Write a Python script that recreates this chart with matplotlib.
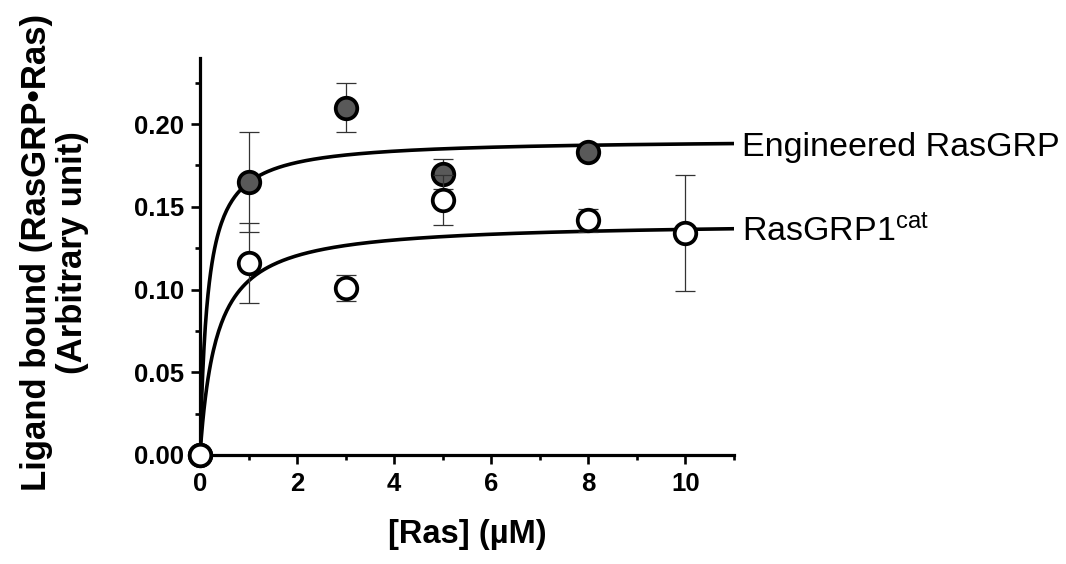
import numpy as np
import matplotlib
matplotlib.use("Agg")
import matplotlib.pyplot as plt
from matplotlib.ticker import MultipleLocator

plt.rcParams['font.family'] = ['Liberation Sans', 'DejaVu Sans']
plt.rcParams['mathtext.default'] = 'regular'

# measured points
eng_x = [0, 1, 3, 5, 8]
eng_y = [0.0, 0.165, 0.210, 0.170, 0.183]
eng_err = [0.0, 0.030, 0.015, 0.009, 0.002]

cat_x = [0, 1, 3, 5, 8, 10]
cat_y = [0.0, 0.116, 0.101, 0.154, 0.142, 0.134]
cat_err = [0.0, 0.024, 0.008, 0.015, 0.007, 0.035]

# one-site binding fits: Bmax, Kd
eng_fit = (0.191, 0.16)
cat_fit = (0.141, 0.34)

labels = ["Engineered RasGRP", "RasGRP1$^{cat}$"]


def binding(x, bmax, kd):
    return bmax * x / (kd + x)


fig = plt.figure(figsize=(10.66, 5.64), dpi=100)
ax = fig.add_axes([0.1876, 0.1933, 0.5010, 0.7039])

xx = np.linspace(0, 11, 400)
ax.plot(xx, binding(xx, *eng_fit), color='black', lw=2.6, zorder=2)
ax.plot(xx, binding(xx, *cat_fit), color='black', lw=2.6, zorder=2)

bar_kw = dict(fmt='none', ecolor='#333333', elinewidth=0.9, capsize=7,
              capthick=0.9, clip_on=False)
mk_kw = dict(marker='o', linestyle='none', markersize=15.5,
             markeredgewidth=2.7, markeredgecolor='black', clip_on=False)

ax.errorbar(eng_x, eng_y, yerr=eng_err, zorder=3, **bar_kw)
ax.plot(eng_x, eng_y, markerfacecolor='#595959', zorder=4, **mk_kw)
ax.errorbar(cat_x, cat_y, yerr=cat_err, zorder=5, **bar_kw)
ax.plot(cat_x, cat_y, markerfacecolor='white', zorder=6, **mk_kw)

ax.text(11.17, binding(11, *eng_fit), labels[0], fontsize=24.5,
        va='center_baseline', ha='left')
ax.text(11.17, binding(11, *cat_fit), labels[1], fontsize=24.5,
        va='center_baseline', ha='left')

ax.set_xlim(0, 11)
ax.set_ylim(0, 0.24)
ax.xaxis.set_major_locator(MultipleLocator(2))
ax.xaxis.set_minor_locator(MultipleLocator(1))
ax.yaxis.set_major_locator(MultipleLocator(0.05))
ax.yaxis.set_minor_locator(MultipleLocator(0.025))
ax.set_xticks([0, 2, 4, 6, 8, 10])
ax.yaxis.set_major_formatter(plt.FuncFormatter(lambda v, p: f"{v:.2f}"))

for s in ['top', 'right']:
    ax.spines[s].set_visible(False)
for s in ['left', 'bottom']:
    ax.spines[s].set_linewidth(2.3)

ax.tick_params(which='major', direction='out', length=6.5, width=1.9,
               labelsize=18.5)
ax.tick_params(which='minor', direction='out', length=3.5, width=1.9)
ax.tick_params(axis='y', pad=5)
ax.tick_params(axis='x', pad=6)
for lbl in ax.get_xticklabels() + ax.get_yticklabels():
    lbl.set_fontweight('bold')

ax.set_xlabel("[Ras] (\u00b5M)", fontsize=23.5, fontweight='bold', labelpad=16)
ax.set_ylabel("Ligand bound (RasGRP\u2022Ras)\n(Arbitrary unit)", fontsize=25,
              fontweight='bold', linespacing=1.12)
ax.yaxis.set_label_coords(-0.207, 0.51)

fig.savefig("out.png", dpi=100)
